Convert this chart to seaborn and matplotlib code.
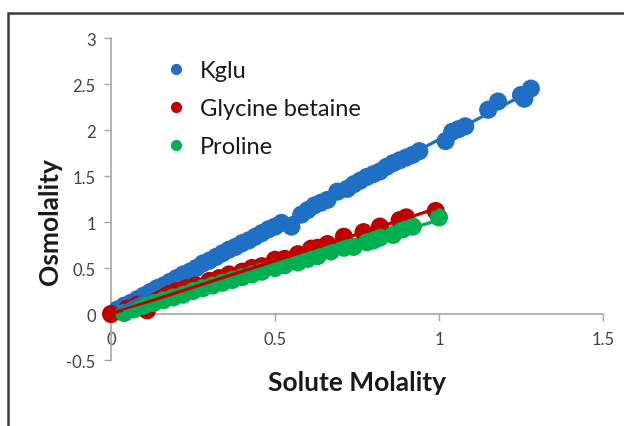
import matplotlib
matplotlib.use("Agg")
import matplotlib.pyplot as plt
from matplotlib.patches import Rectangle
import seaborn as sns
import pandas as pd

# ---- data ----
kglu_x = [0.02, 0.04, 0.06, 0.08, 0.10, 0.12, 0.14, 0.16, 0.18, 0.20, 0.22, 0.24, 0.26, 0.28,
          0.30, 0.32, 0.34, 0.36, 0.38, 0.40, 0.42, 0.44, 0.46, 0.48, 0.50, 0.52, 0.55, 0.58,
          0.60, 0.62, 0.64, 0.66, 0.69, 0.72, 0.74, 0.76, 0.78, 0.80, 0.82, 0.84, 0.86, 0.88,
          0.90, 0.92, 0.94, 1.02, 1.04, 1.06, 1.08, 1.15, 1.18, 1.25, 1.26, 1.28]
kglu_y = [0.05, 0.09, 0.12, 0.16, 0.20, 0.24, 0.28, 0.31, 0.35, 0.39, 0.43, 0.46, 0.50, 0.55,
          0.58, 0.62, 0.66, 0.70, 0.73, 0.77, 0.80, 0.84, 0.88, 0.92, 0.95, 0.99, 0.95, 1.08,
          1.13, 1.18, 1.21, 1.24, 1.33, 1.36, 1.41, 1.45, 1.49, 1.52, 1.55, 1.60, 1.64, 1.67,
          1.70, 1.73, 1.77, 1.88, 1.98, 2.01, 2.04, 2.22, 2.31, 2.38, 2.34, 2.45]

gb_x = [0.00, 0.05, 0.08, 0.11, 0.14, 0.17, 0.20, 0.23, 0.26, 0.30, 0.33, 0.36, 0.40, 0.43,
        0.46, 0.50, 0.53, 0.57, 0.61, 0.63, 0.66, 0.71, 0.77, 0.82, 0.88, 0.90, 0.99]
gb_y = [0.00, 0.06, 0.10, 0.04, 0.17, 0.22, 0.25, 0.28, 0.31, 0.36, 0.39, 0.43, 0.46, 0.50,
        0.52, 0.59, 0.60, 0.65, 0.71, 0.72, 0.76, 0.84, 0.89, 0.95, 1.02, 1.05, 1.12]

pro_x = [0.04, 0.07, 0.10, 0.13, 0.16, 0.19, 0.22, 0.25, 0.28, 0.31, 0.34, 0.37, 0.40, 0.43,
         0.46, 0.50, 0.53, 0.57, 0.60, 0.63, 0.67, 0.71, 0.74, 0.78, 0.80, 0.82, 0.86, 0.89,
         0.92, 1.00]
pro_y = [0.01, 0.05, 0.09, 0.12, 0.15, 0.18, 0.21, 0.25, 0.28, 0.31, 0.34, 0.37, 0.40, 0.43,
         0.46, 0.50, 0.53, 0.56, 0.60, 0.63, 0.68, 0.72, 0.73, 0.78, 0.80, 0.83, 0.86, 0.92,
         0.95, 1.05]

series_names = ["Kglu", "Glycine betaine", "Proline"]
series_colors = ["#1F6FC4", "#C00000", "#00B050"]

x_ticks = [0, 0.5, 1, 1.5]
x_tick_labels = ["0", "0.5", "1", "1.5"]
y_ticks = [-0.5, 0, 0.5, 1, 1.5, 2, 2.5, 3]
y_tick_labels = ["-0.5", "0", "0.5", "1", "1.5", "2", "2.5", "3"]

x_label = "Solute Molality"
y_label = "Osmolality"

# ---- plotting ----
sns.set_style("white")
plt.rcParams["font.family"] = ["Lato", "DejaVu Sans"]

fig = plt.figure(figsize=(6.24, 4.27), dpi=100)
ax = fig.add_axes([111 / 624, 1 - 361 / 427, 492 / 624, 322 / 427])

frames = []
for name, xs, ys in [(series_names[0], kglu_x, kglu_y),
                     (series_names[1], gb_x, gb_y),
                     (series_names[2], pro_x, pro_y)]:
    frames.append(pd.DataFrame({"x": xs, "y": ys, "series": name}))
df = pd.concat(frames, ignore_index=True)

sns.scatterplot(data=df, x="x", y="y", hue="series", hue_order=series_names,
                palette=series_colors, s=170, linewidth=0, alpha=1.0, ax=ax,
                zorder=3, legend=True, clip_on=False)

for name, col in zip(series_names, series_colors):
    sub = df[df["series"] == name]
    sns.regplot(data=sub, x="x", y="y", scatter=False, ci=None, ax=ax,
                line_kws=dict(color=col, lw=2.3, zorder=4), truncate=True)

ax.set_xlim(0, 1.5)
ax.set_ylim(-0.5, 3)
ax.set_xticks(x_ticks)
ax.set_xticklabels(x_tick_labels)
ax.set_yticks(y_ticks)
ax.set_yticklabels(y_tick_labels)

axis_gray = "#A6A6A6"
for s in ["top", "right"]:
    ax.spines[s].set_visible(False)
ax.spines["bottom"].set_position(("data", 0))
for s in ["left", "bottom"]:
    ax.spines[s].set_color(axis_gray)
    ax.spines[s].set_linewidth(1.2)

ax.tick_params(axis="both", direction="out", length=5, width=1.0, color=axis_gray,
               labelsize=12, labelcolor="#404040")
ax.tick_params(axis="y", pad=6, left=True)
ax.tick_params(axis="x", pad=7, bottom=True)

ax.set_xlabel("")
ax.set_ylabel("")
fig.text(357 / 624, 1 - 383 / 427, x_label, ha="center", va="center",
         fontsize=19, fontweight="bold", color="#1a1a1a")
fig.text(50 / 624, 1 - 222 / 427, y_label, ha="center", va="center", rotation=90,
         fontsize=19, fontweight="bold", color="#1a1a1a")

leg = ax.legend(title=None, frameon=False, loc="upper left",
                bbox_to_anchor=(0.065, 0.96), fontsize=17, markerscale=0.62,
                handletextpad=0.0, labelspacing=0.72, borderaxespad=0)
for t in leg.get_texts():
    t.set_color("#1a1a1a")

fig.add_artist(Rectangle((8 / 624, -0.2), 1.2, 0.2 + (1 - 14 / 427),
                         transform=fig.transFigure, fill=False,
                         ec="#3a3a3a", lw=1.8))

fig.savefig("out.png", dpi=100)
